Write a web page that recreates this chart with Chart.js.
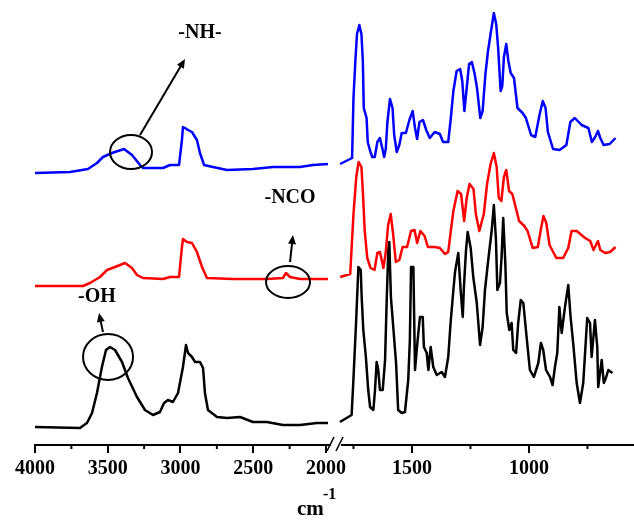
<!DOCTYPE html>
<html>
<head>
<meta charset="utf-8">
<script src="https://cdn.jsdelivr.net/npm/chart.js@4.4.1/dist/chart.umd.min.js"></script>
<style>
  html, body { margin: 0; padding: 0; background: #fff; }
  #chart { display: block; }
</style>
</head>
<body>
<canvas id="chart" width="634" height="528"></canvas>
<script>
/* DATA: wavenumbers (cm-1) and intensities (a.u., offset per trace) */
const blueWn = [4000, 3759, 3636, 3574, 3533, 3471, 3388, 3333, 3278, 3258, 3120, 3072, 3010, 2990, 2983, 2969, 2948, 2921, 2887, 2866, 2838, 2777, 2680, 2502, 2364, 2179, 2089, 1986,
  1807, 1756, 1750, 1742, 1735, 1725, 1716, 1710, 1706, 1694, 1689, 1680, 1670, 1659, 1648, 1637, 1626, 1619, 1612, 1605, 1594, 1583, 1576, 1565, 1554, 1544, 1526, 1511, 1497, 1487,
  1478, 1468, 1453, 1439, 1424, 1403, 1381, 1367, 1345, 1334, 1323, 1309, 1294, 1285, 1276, 1266, 1256, 1244, 1232, 1222, 1208, 1198, 1186, 1175, 1164, 1150, 1140, 1132, 1121, 1114,
  1107, 1097, 1088, 1078, 1064, 1049, 1027, 1013, 991, 973, 955, 941, 929, 919, 897, 869, 840, 823, 804, 775, 746, 731, 717, 705, 695, 681, 655, 630];
const blueAbs = [272, 273, 276, 282, 288, 292, 296, 290, 280, 277, 277, 280, 280, 305, 318, 317, 315, 313, 305, 292, 280, 278, 275, 276, 278, 278, 280, 281,
  281, 287, 347, 384, 411, 420, 411, 384, 337, 327, 303, 295, 288, 288, 303, 307, 296, 288, 296, 323, 346, 337, 310, 293, 300, 312, 312, 325, 334, 317,
  306, 323, 325, 315, 307, 313, 311, 303, 303, 327, 354, 374, 376, 364, 334, 357, 381, 383, 371, 357, 327, 334, 371, 394, 411, 432, 421, 398, 354, 359,
  388, 401, 384, 372, 367, 337, 332, 327, 310, 308, 330, 344, 337, 313, 296, 295, 300, 323, 327, 320, 317, 303, 308, 314, 307, 300, 301, 307];

const redWn = [4000, 3670, 3622, 3553, 3505, 3450, 3381, 3333, 3299, 3258, 3120, 3072, 3010, 2990, 2983, 2955, 2921, 2887, 2852, 2818, 2639, 2406, 2296, 2275, 2247, 2179, 1986,
  1807, 1764, 1750, 1738, 1728, 1716, 1710, 1702, 1691, 1677, 1660, 1648, 1637, 1622, 1612, 1602, 1591, 1582, 1569, 1554, 1540, 1521, 1504, 1489, 1478, 1464, 1446, 1432, 1403, 1381,
  1359, 1345, 1334, 1323, 1305, 1290, 1277, 1266, 1254, 1237, 1227, 1212, 1193, 1179, 1164, 1150, 1138, 1129, 1118, 1107, 1097, 1085, 1071, 1056, 1042, 1020, 1006, 984, 962, 948,
  938, 926, 912, 883, 854, 832, 818, 796, 760, 738, 724, 705, 695, 674, 653, 630];
const redAbs = [159, 159, 162, 168, 175, 178, 182, 177, 170, 167, 166, 168, 168, 198, 206, 203, 202, 193, 178, 167, 166, 166, 167, 172, 168, 166, 166,
  168, 171, 231, 268, 283, 278, 254, 214, 187, 177, 175, 192, 193, 177, 193, 220, 231, 214, 183, 185, 198, 198, 214, 215, 202, 214, 209, 198, 198, 197,
  191, 193, 214, 234, 254, 251, 224, 247, 261, 256, 231, 214, 231, 261, 281, 292, 278, 247, 244, 268, 275, 254, 251, 237, 224, 219, 214, 197, 198, 217,
  229, 222, 200, 187, 187, 197, 214, 214, 207, 204, 195, 204, 195, 192, 193, 198];

const blackWn = [4000, 3691, 3643, 3608, 3574, 3540, 3512, 3485, 3450, 3402, 3361, 3299, 3244, 3189, 3141, 3113, 3086, 3052, 3017, 2983, 2962, 2948, 2921, 2900, 2866, 2845, 2832, 2811, 2749, 2680, 2591, 2502, 2406, 2296, 2179, 2062, 1986,
  1808, 1758, 1751, 1739, 1729, 1719, 1715, 1708, 1697, 1687, 1679, 1665, 1658, 1651, 1644, 1637, 1625, 1615, 1608, 1601, 1597, 1590, 1580, 1568, 1559, 1544, 1530, 1516, 1509, 1504,
  1494, 1487, 1477, 1466, 1454, 1449, 1437, 1430, 1420, 1409, 1394, 1373, 1359, 1345, 1335, 1323, 1316, 1302, 1292, 1283, 1278, 1269, 1262, 1249, 1238, 1223, 1209, 1198, 1188, 1174,
  1159, 1150, 1141, 1135, 1124, 1117, 1110, 1101, 1095, 1084, 1074, 1067, 1055, 1046, 1035, 1024, 1010, 996, 979, 960, 949, 939, 927, 910, 899, 889, 879, 870, 860, 846,
  832, 822, 811, 796, 782, 768, 756, 751, 739, 732, 718, 708, 704, 689, 680, 671, 661, 643];
const blackAbs = [18, 17, 22, 32, 52, 78, 95, 98, 95, 83, 67, 48, 35, 30, 33, 42, 45, 43, 52, 78, 100, 92, 88, 83, 83, 77, 52, 35, 28, 27, 28, 23, 23, 20, 20, 22, 22,
  23, 30, 62, 122, 178, 175, 148, 115, 88, 55, 38, 35, 55, 83, 75, 55, 55, 85, 145, 195, 203, 148, 118, 82, 35, 32, 33, 65, 105, 178,
  178, 75, 102, 128, 128, 98, 92, 75, 98, 78, 70, 73, 68, 88, 122, 155, 173, 192, 155, 128, 158, 195, 213, 197, 168, 142, 100, 118, 155, 185,
  215, 240, 205, 155, 162, 188, 227, 182, 132, 115, 122, 95, 92, 122, 145, 142, 108, 75, 68, 82, 102, 95, 75, 68, 60, 78, 92, 138, 112, 138,
  160, 128, 102, 62, 42, 62, 108, 127, 122, 88, 125, 98, 58, 85, 62, 67, 75, 72];

/* AXES */
const leftTicks = [4000, 3500, 3000, 2500, 2000];
const rightTicks = [1500, 1000];
const leftMinor = [3750, 3250, 2750, 2250];
const rightMinor = [1750, 1250, 750];
const BREAK = 1900;

/* ANNOTATIONS (left axis, data units) */
const notes = [
  { text: '-NH-', ring: [3340, 293], rx: 21, ry: 17, from: [3278, 310], to: [2969, 386], label: [2866, 412] },
  { text: '-NCO', ring: [2261, 163], rx: 22, ry: 16, from: [2247, 183], to: [2227, 210], label: [2247, 247] },
  { text: '-OH', ring: [3498, 88], rx: 25, ry: 23, from: [3533, 113], to: [3560, 132], label: [3574, 148] }
];

const SERIF = '"Liberation Serif", "Times New Roman", serif';

function pick(wn, vals, left) {
  return wn.map((w, i) => ({ x: w, y: vals[i] }))
    .filter(p => left ? p.x > BREAK : p.x < BREAK);
}

function trace(wn, vals, color) {
  const base = { borderColor: color, borderWidth: 2.5, pointRadius: 0, tension: 0, borderJoinStyle: 'round', yAxisID: 'y' };
  return [
    Object.assign({ data: pick(wn, vals, true), xAxisID: 'xL' }, base),
    Object.assign({ data: pick(wn, vals, false), xAxisID: 'xR' }, base)
  ];
}

function axis(min, max, weight, major) {
  return {
    type: 'linear',
    position: 'bottom',
    stack: 'wn',
    stackWeight: weight,
    reverse: true,
    min: min,
    max: max,
    afterBuildTicks: s => { s.ticks = major.map(v => ({ value: v })); },
    afterFit: s => { s.height = 83; s.paddingLeft = 0; s.paddingRight = 0; },
    ticks: {
      autoSkip: false, maxRotation: 0, padding: 4, color: '#000',
      font: { family: SERIF, size: 20, weight: 'bold' },
      callback: v => String(v)
    },
    grid: { drawOnChartArea: false, drawTicks: true, tickLength: 8, color: '#000', lineWidth: 2 },
    border: { display: true, color: '#000', width: 2 }
  };
}

function arrow(ctx, x0, y0, x1, y1) {
  const a = Math.atan2(y1 - y0, x1 - x0);
  ctx.beginPath();
  ctx.moveTo(x0, y0);
  ctx.lineTo(x1 - 5 * Math.cos(a), y1 - 5 * Math.sin(a));
  ctx.stroke();
  ctx.beginPath();
  ctx.moveTo(x1, y1);
  ctx.lineTo(x1 - 9 * Math.cos(a) + 4 * Math.sin(a), y1 - 9 * Math.sin(a) - 4 * Math.cos(a));
  ctx.lineTo(x1 - 9 * Math.cos(a) - 4 * Math.sin(a), y1 - 9 * Math.sin(a) + 4 * Math.cos(a));
  ctx.closePath();
  ctx.fill();
}

/* EXTRAS: minor ticks, axis break, labels, unit */
const extras = {
  id: 'extras',
  afterDraw(chart) {
    const ctx = chart.ctx;
    const xL = chart.scales.xL, xR = chart.scales.xR, y = chart.scales.y;
    const base = chart.chartArea.bottom;
    ctx.save();
    ctx.strokeStyle = '#000';
    ctx.fillStyle = '#000';
    ctx.lineWidth = 2;

    [[xL, leftMinor], [xR, rightMinor]].forEach(([s, list]) => {
      list.forEach(v => {
        const px = s.getPixelForValue(v);
        ctx.beginPath();
        ctx.moveTo(px, base);
        ctx.lineTo(px, base + 4);
        ctx.stroke();
      });
    });

    const bx = xL.right;
    ctx.fillStyle = '#fff';
    ctx.fillRect(bx - 4, base - 3, 10, 6);
    ctx.fillStyle = '#000';
    ctx.lineWidth = 1.6;
    ctx.beginPath();
    ctx.moveTo(bx - 8, base + 6); ctx.lineTo(bx - 1, base - 8);
    ctx.moveTo(bx + 1, base + 6); ctx.lineTo(bx + 8, base - 8);
    ctx.stroke();

    ctx.lineWidth = 2;
    ctx.textAlign = 'center';
    ctx.textBaseline = 'middle';
    ctx.font = 'bold 20px ' + SERIF;
    notes.forEach(n => {
      const cx = xL.getPixelForValue(n.ring[0]), cy = y.getPixelForValue(n.ring[1]);
      ctx.beginPath();
      ctx.ellipse(cx, cy, n.rx, n.ry, 0, 0, Math.PI * 2);
      ctx.stroke();
      arrow(ctx, xL.getPixelForValue(n.from[0]), y.getPixelForValue(n.from[1]),
        xL.getPixelForValue(n.to[0]), y.getPixelForValue(n.to[1]));
      ctx.fillText(n.text, xL.getPixelForValue(n.label[0]), y.getPixelForValue(n.label[1]));
    });

    ctx.textAlign = 'left';
    ctx.textBaseline = 'alphabetic';
    ctx.font = 'bold 21px ' + SERIF;
    ctx.fillText('cm', 297, base + 70);
    ctx.font = 'bold 16px ' + SERIF;
    ctx.fillText('-1', 323, base + 54);
    ctx.restore();
  }
};

new Chart(document.getElementById('chart'), {
  type: 'line',
  data: {
    datasets: [
      ...trace(blueWn, blueAbs, '#0000ff'),
      ...trace(redWn, redAbs, '#ff0000'),
      ...trace(blackWn, blackAbs, '#000000')
    ]
  },
  options: {
    responsive: false,
    animation: false,
    layout: { padding: { left: 35, right: 0, top: 0, bottom: 0 } },
    plugins: { legend: { display: false }, tooltip: { enabled: false } },
    scales: {
      xL: axis(1938, 4000, 300, leftTicks),
      xR: axis(551, 1829, 299, rightTicks),
      y: { display: false, min: 0, max: 445 }
    }
  },
  plugins: [extras]
});
</script>
</body>
</html>
